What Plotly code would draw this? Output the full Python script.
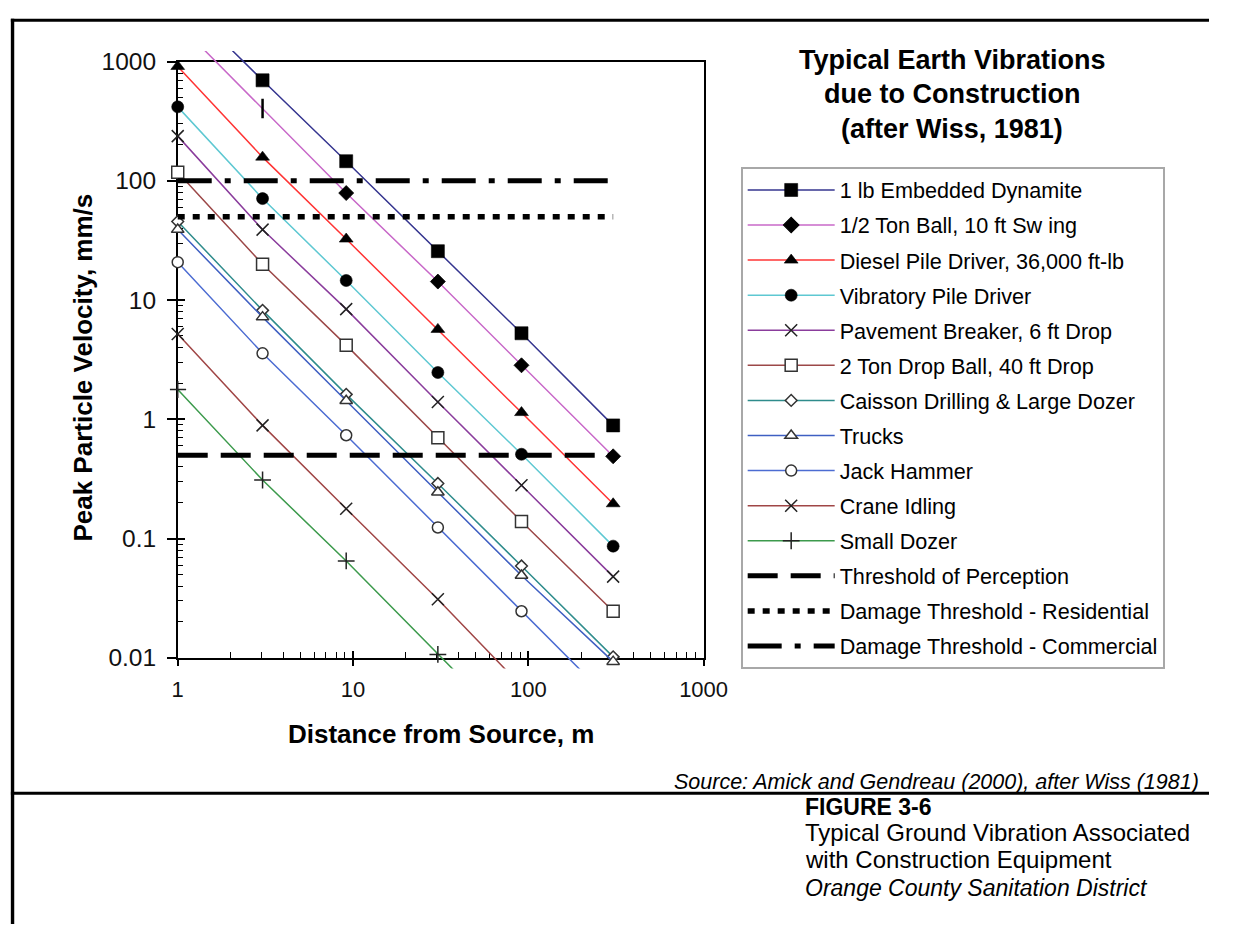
import plotly.graph_objects as go

W, H = 1233, 938
FONT = "Liberation Sans, Arial, sans-serif"

# ---------------- data ----------------
distance_m = [1, 3.048, 9.144, 30.48, 91.44, 304.8]

series_names = [
    "1 lb Embedded Dynamite",
    "1/2 Ton Ball, 10 ft Sw ing",
    "Diesel Pile Driver, 36,000 ft-lb",
    "Vibratory Pile Driver",
    "Pavement Breaker, 6 ft Drop",
    "2 Ton Drop Ball, 40 ft Drop",
    "Caisson Drilling & Large Dozer",
    "Trucks",
    "Jack Hammer",
    "Crane Idling",
    "Small Dozer",
]
ppv_dynamite = [3500, 696, 146, 25.7, 5.27, 0.89]
ppv_half_ton_ball = [2100, 404, 79, 14.3, 2.84, 0.49]
ppv_diesel_pile = [910, 158, 32.5, 5.68, 1.14, 0.196]
ppv_vibratory_pile = [417, 71, 14.6, 2.47, 0.51, 0.0865]
ppv_pavement_breaker = [237, 39, 8.4, 1.40, 0.28, 0.048]
ppv_two_ton_ball = [118, 20, 4.19, 0.70, 0.139, 0.0246]
ppv_caisson_dozer = [45.6, 8.2, 1.62, 0.29, 0.059, 0.0102]
ppv_trucks = [39, 7.2, 1.43, 0.245, 0.049, 0.0093]
ppv_jack_hammer = [20.8, 3.58, 0.736, 0.124, 0.0246, 0.0042]
ppv_crane_idling = [5.2, 0.89, 0.178, 0.031, 0.0058, None]
ppv_small_dozer = [1.78, 0.31, 0.065, 0.0107, 0.0021, None]

series_values = [
    ppv_dynamite, ppv_half_ton_ball, ppv_diesel_pile, ppv_vibratory_pile,
    ppv_pavement_breaker, ppv_two_ton_ball, ppv_caisson_dozer, ppv_trucks,
    ppv_jack_hammer, ppv_crane_idling, ppv_small_dozer,
]

threshold_names = [
    "Threshold of Perception",
    "Damage Threshold - Residential",
    "Damage Threshold - Commercial",
]
threshold_ppv = [0.5, 50, 100]

x_tick_labels = ["1", "10", "100", "1000"]
y_tick_labels = ["0.01", "0.1", "1", "10", "100", "1000"]

# ---------------- styles ----------------
line_colors = ["#35358f", "#c868c8", "#ff3434", "#5ec8d2", "#8a3c9c",
               "#9c4848", "#2e8c8c", "#3f5fc2", "#4c6cd2", "#a04646", "#3c9a4c"]
symbols = ["square", "diamond", "triangle-up", "circle", "x-thin",
           "square", "diamond", "triangle-up", "circle", "x-thin", "cross-thin"]
filled = [True, True, True, True, None, False, False, False, False, None, None]
msizes = [13, 11.5, 12, 12, 12, 12, 9, 11, 11, 12, 12]

th_dash = ["30px,13px", "7px,8px", "34px,13px,6px,13px"]
th_width = [5, 5.5, 5]

# ---------------- geometry (pixels) ----------------
PL, PR, PT, PB = 176, 715, 50, 664
EXT_L, EXT_V = 8, 11
dec_x = (PR - PL) / 3.0
dec_y = (PB - PT) / 5.0


def fx(p):
    return p / W


def fy(p):
    return 1 - p / H


x_tick_vals = [float(t) for t in x_tick_labels]
y_tick_vals = [float(t) for t in y_tick_labels]
x_minor = [d * 10 ** e for e in range(0, 3) for d in range(2, 10)]
y_minor = [d * 10.0 ** e for e in range(-2, 3) for d in range(2, 10)]

fig = go.Figure()

# dummy traces so that the display axes exist
fig.add_trace(go.Scatter(x=[], y=[], xaxis="x", yaxis="y", showlegend=False, hoverinfo="skip"))
fig.add_trace(go.Scatter(x=[], y=[], xaxis="x3", yaxis="y", showlegend=False, hoverinfo="skip"))
fig.add_trace(go.Scatter(x=[], y=[], xaxis="x", yaxis="y3", showlegend=False, hoverinfo="skip"))

for i, (name, vals) in enumerate(zip(series_names, series_values)):
    sym = symbols[i]
    if filled[i] is True:
        marker = dict(symbol=sym, size=msizes[i], color="black", line=dict(width=0.6, color="black"))
    elif filled[i] is False:
        marker = dict(symbol=sym, size=msizes[i], color="white", line=dict(width=1.5, color="#333333"))
    else:
        marker = dict(symbol=sym, size=msizes[i], color="#222222", line=dict(width=1.5, color="#222222"))
    if i == 1:
        # the second point of this series shows as a thin vertical glyph in the source
        n = len(vals)
        marker["symbol"] = [sym if k != 1 else "line-ns" for k in range(n)]
        marker["size"] = [msizes[i] if k != 1 else 14 for k in range(n)]
        marker["line"] = dict(width=[0.8 if k != 1 else 2.5 for k in range(n)], color="black")
    marker["opacity"] = 1
    fig.add_trace(go.Scatter(
        x=distance_m, y=vals, name=name, mode="lines+markers",
        xaxis="x2", yaxis="y2", legendgroup=name,
        line=dict(color=line_colors[i], width=1.5),
        marker=marker, cliponaxis=True, connectgaps=False,
    ))

for j, (name, v) in enumerate(zip(threshold_names, threshold_ppv)):
    fig.add_trace(go.Scatter(
        x=[distance_m[0], distance_m[-1]], y=[v, v], name=name, mode="lines",
        xaxis="x2", yaxis="y2", legendgroup=name,
        line=dict(color="black", width=th_width[j], dash=th_dash[j]),
    ))

axis_common = dict(type="log", showgrid=False, zeroline=False, fixedrange=True)

fig.update_layout(
    width=W, height=H,
    margin=dict(l=0, r=0, t=0, b=0),
    paper_bgcolor="white", plot_bgcolor="rgba(0,0,0,0)",
    font=dict(family=FONT, color="black"),
    xaxis=dict(**axis_common, domain=[fx(PL), fx(PR)], range=[0, 3], anchor="y",
               showline=True, linecolor="black", linewidth=1.5, mirror=True,
               ticks="outside", ticklen=6, tickwidth=1.5, tickcolor="black",
               tickmode="array", tickvals=x_tick_vals, ticktext=x_tick_labels,
               tickfont=dict(size=22, color="#111111", family=FONT),
               ticklabelstandoff=5,
               minor=dict(tickmode="array", tickvals=x_minor, ticks="inside",
                          ticklen=6, tickwidth=1.2, tickcolor="black", showgrid=False)),
    yaxis=dict(**axis_common, domain=[fy(PB), fy(PT)], range=[-2, 3], anchor="x",
               showline=True, linecolor="black", linewidth=1.5, mirror=True,
               ticks="outside", ticklen=9, tickwidth=1.5, tickcolor="black",
               tickmode="array", tickvals=y_tick_vals, ticktext=y_tick_labels,
               tickfont=dict(size=24.5, color="#111111", family=FONT),
               ticklabelstandoff=6,
               minor=dict(tickmode="array", tickvals=y_minor, ticks="inside",
                          ticklen=6, tickwidth=1.2, tickcolor="black", showgrid=False)),
    xaxis3=dict(**axis_common, overlaying="x", anchor="y", range=[0, 3],
                showline=False, ticks="inside", ticklen=7, tickwidth=1.5, tickcolor="black",
                tickmode="array", tickvals=x_tick_vals, showticklabels=False),
    yaxis3=dict(**axis_common, overlaying="y", anchor="x", range=[-2, 3],
                showline=False, ticks="inside", ticklen=7, tickwidth=1.5, tickcolor="black",
                tickmode="array", tickvals=y_tick_vals, showticklabels=False),
    xaxis2=dict(**axis_common, domain=[fx(PL - EXT_L), fx(PR)],
                range=[-EXT_L / dec_x, 3], anchor="y2", visible=False),
    yaxis2=dict(**axis_common, domain=[fy(PB + EXT_V), fy(PT - EXT_V)],
                range=[-2 - EXT_V / dec_y, 3 + EXT_V / dec_y], anchor="x2", visible=False),
    legend=dict(x=fx(753), y=fy(159), xanchor="left", yanchor="top",
                bgcolor="white", bordercolor="#a8a8a8", borderwidth=2,
                font=dict(family=FONT, size=21.6, color="black"),
                itemwidth=87, tracegroupgap=4, traceorder="grouped"),
    showlegend=True,
)


def add_text(text, x, y, size, xanchor="center", angle=0):
    fig.add_annotation(text=text, x=fx(x), y=fy(y), xref="paper", yref="paper",
                       xanchor=xanchor, yanchor="middle", showarrow=False,
                       textangle=angle, font=dict(family=FONT, size=size, color="black"))


# chart title
add_text("<b>Typical Earth Vibrations</b>", 970, 48, 27)
add_text("<b>due to Construction</b>", 970, 83.5, 27)
add_text("<b>(after Wiss, 1981)</b>", 970, 119, 27)

# axis titles
add_text("<b>Distance from Source, m</b>", 445.5, 742.5, 26)
add_text("<b>Peak Particle Velocity, mm/s</b>", 79, 365, 26, angle=-90)

# source and figure caption
add_text("<i>Source: Amick and Gendreau (2000), after Wiss (1981)</i>", 1225, 791.5, 21.5, xanchor="right")
add_text("<b>FIGURE 3-6</b>", 817, 818, 23, xanchor="left")
add_text("Typical Ground Vibration Associated", 817, 844, 24, xanchor="left")
add_text("with Construction Equipment", 817, 872, 24, xanchor="left")
add_text("<i>Orange County Sanitation District</i>", 817, 900.5, 23, xanchor="left")

# page frame lines
frame = [
    (5, 7.5, W, 7.5, 3),
    (6.7, 6, 6.7, H, 3.4),
    (5, 803.5, W, 803.5, 3),
]
for x0, y0, x1, y1, w in frame:
    fig.add_shape(type="line", xref="paper", yref="paper",
                  x0=fx(x0), y0=fy(y0), x1=fx(x1), y1=fy(y1),
                  line=dict(color="black", width=w))

fig.write_html("out.html", include_plotlyjs=True, config={"displayModeBar": False},
               post_script="document.body.style.margin='0px';document.body.style.overflow='hidden';")
